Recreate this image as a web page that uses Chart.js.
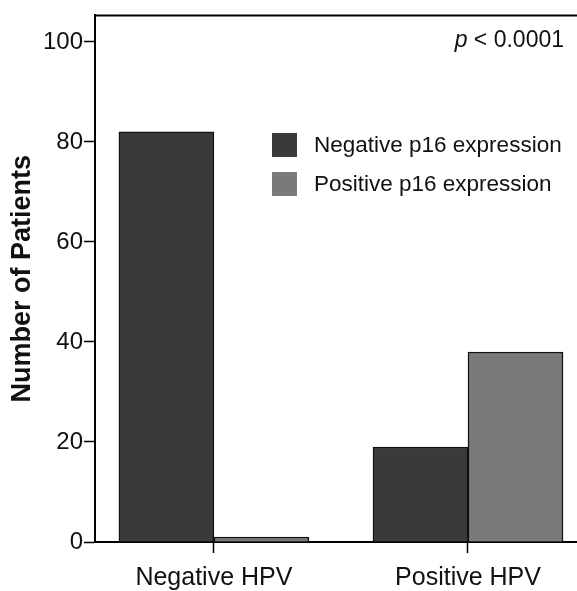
<!DOCTYPE html>
<html>
<head>
    <title>p16 expression by HPV status</title>
    <style>
        body { margin: 0; background: #fff; font-family: "Liberation Sans", Arial, sans-serif; }
        #wrap { width: 577px; height: 591px; position: relative; }
    </style>
    <script src="https://cdn.jsdelivr.net/npm/chart.js"></script>
</head>
<body>
<div id="wrap"><canvas id="hpvChart" width="577" height="591"></canvas></div>
<script>
// categories sit at x = 1 and x = 2 on a linear axis so the frame can crop like the original
const categories = ['Negative HPV', 'Positive HPV'];
const categoryPos = [1, 2];
const seriesNames = ['Negative p16 expression', 'Positive p16 expression'];
const negP16 = [82, 19];
const posP16 = [1, 38];
const yTicks = [0, 20, 40, 60, 80, 100];

const FONT = '"Liberation Sans", Arial, sans-serif';

// top frame line + in-plot legend + p value
const decorations = {
    id: 'decorations',
    afterDraw(chart) {
        const ctx = chart.ctx;
        const a = chart.chartArea;
        ctx.save();
        ctx.strokeStyle = '#000';
        ctx.lineWidth = 2;
        ctx.beginPath();
        ctx.moveTo(a.left, a.top);
        ctx.lineTo(a.right, a.top);
        ctx.stroke();

        // legend
        ctx.font = '22.5px ' + FONT;
        ctx.textBaseline = 'middle';
        chart.data.datasets.forEach((ds, i) => {
            const y = 145 + i * 39;
            ctx.fillStyle = ds.backgroundColor;
            ctx.fillRect(272, y - 12, 25, 24);
            ctx.fillStyle = '#111';
            ctx.fillText(ds.label, 314, y + 1);
        });

        // p value, right aligned
        ctx.textBaseline = 'alphabetic';
        ctx.font = '23px ' + FONT;
        const rest = ' < 0.0001';
        const rw = ctx.measureText(rest).width;
        ctx.fillText(rest, 564 - rw, 47);
        ctx.font = 'italic 23px ' + FONT;
        const pw = ctx.measureText('p').width;
        ctx.fillText('p', 564 - rw - pw, 47);
        ctx.restore();
    }
};

new Chart(document.getElementById('hpvChart').getContext('2d'), {
    type: 'bar',
    data: {
        datasets: [
            {
                label: seriesNames[0],
                data: categoryPos.map((x, i) => ({ x: x, y: negP16[i] })),
                backgroundColor: '#3a3a3a',
                borderColor: '#111',
                borderWidth: 1.5
            },
            {
                label: seriesNames[1],
                data: categoryPos.map((x, i) => ({ x: x, y: posP16[i] })),
                backgroundColor: '#7a7a7a',
                borderColor: '#111',
                borderWidth: 1.5
            }
        ]
    },
    options: {
        responsive: false,
        animation: false,
        barThickness: 95,
        layout: { padding: { top: 14, right: 0, left: 0, bottom: 0 } },
        plugins: { legend: { display: false }, tooltip: { enabled: false } },
        scales: {
            x: {
                type: 'linear',
                offset: false,
                min: 0.532,
                max: 2.429,
                afterBuildTicks: s => { s.ticks = categoryPos.map(v => ({ value: v })); },
                afterFit: s => { s.height = 49; },
                ticks: {
                    callback: v => categories[categoryPos.indexOf(v)],
                    color: '#111',
                    font: { family: FONT, size: 25 },
                    padding: 10,
                    maxRotation: 0,
                    autoSkip: false
                },
                grid: { offset: false, drawOnChartArea: false, tickLength: 11, tickColor: '#000', tickWidth: 1.5 },
                border: { color: '#000', width: 2 }
            },
            y: {
                min: 0,
                max: 105.3,
                afterBuildTicks: s => { s.ticks = yTicks.map(v => ({ value: v })); },
                afterFit: s => { s.width = 95; },
                ticks: {
                    color: '#111',
                    font: { family: FONT, size: 24 },
                    padding: 1
                },
                grid: { drawOnChartArea: false, tickLength: 11, tickColor: '#000', tickWidth: 1.5 },
                border: { color: '#000', width: 2 },
                title: {
                    display: true,
                    text: 'Number of Patients',
                    color: '#111',
                    font: { family: FONT, size: 27, weight: 'bold' },
                    padding: { top: 6, bottom: 0 }
                }
            }
        }
    },
    plugins: [decorations]
});
</script>
</body>
</html>
